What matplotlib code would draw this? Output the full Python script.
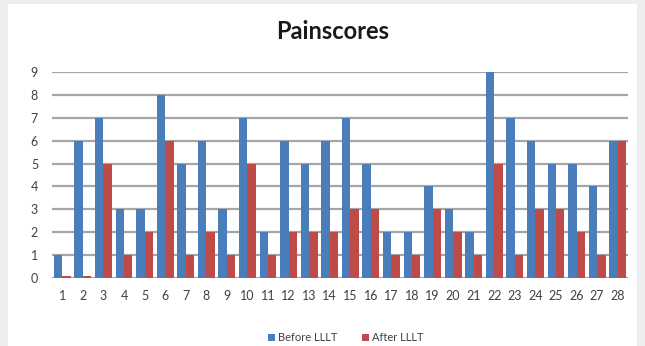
import numpy as np
import matplotlib.pyplot as plt
from matplotlib.patches import Rectangle

# pain score per patient, before and after laser therapy
patients = [str(i) for i in range(1, 29)]
before_lllt = [1, 6, 7, 3, 3, 8, 5, 6, 3, 7, 2, 6, 5, 6, 7, 5, 2, 2, 4, 3, 2, 9, 7, 6, 5, 5, 4, 6]
after_lllt = [0.1, 0.1, 5, 1, 2, 6, 1, 2, 1, 5, 1, 2, 2, 2, 3, 3, 1, 1, 3, 2, 1, 5, 1, 3, 3, 2, 1, 6]

plt.rcParams['font.family'] = ['Lato', 'DejaVu Sans']

fig = plt.figure(figsize=(6.45, 3.46), dpi=100, facecolor='#eeeeee')
# white chart panel on the grey page
panel = Rectangle((8 / 645, 0), 629 / 645, 342 / 346, transform=fig.transFigure,
                  facecolor='white', edgecolor='none', zorder=-10)
fig.add_artist(panel)

ax = fig.add_axes([52 / 645, 68 / 346, 576 / 645, 206 / 346])
ax.set_facecolor('none')

x = np.arange(len(patients))
w = 0.41
ax.bar(x - w / 2, before_lllt, w, color='#4a7ebb', label='Before LLLT', zorder=3)
ax.bar(x + w / 2, after_lllt, w, color='#be4b48', label='After LLLT', zorder=3)

ax.set_xlim(-0.5, len(patients) - 0.5)
ax.set_ylim(0, 9)
ax.set_yticks(range(10))
ax.set_xticks(x)
ax.set_xticklabels(patients)
ax.yaxis.grid(True, color='#a6a6a6', linewidth=1.6, zorder=0)
ax.tick_params(axis='both', length=0, labelsize=9, colors='#404040')
ax.tick_params(axis='x', pad=9)
ax.tick_params(axis='y', pad=10)
for s in ax.spines.values():
    s.set_visible(False)

fig.text(0.515, 0.91, 'Painscores', ha='center', va='center', fontsize=17, fontweight='bold', color='#1a1a1a')

ax.legend(loc='upper center', bbox_to_anchor=(0.51, -0.215), ncol=2, frameon=False,
          fontsize=8, handlelength=0.6, handleheight=0.6, handletextpad=0.3, columnspacing=2.2,
          labelcolor='#404040')

plt.savefig('out.png', dpi=100, facecolor=fig.get_facecolor())
plt.close()
